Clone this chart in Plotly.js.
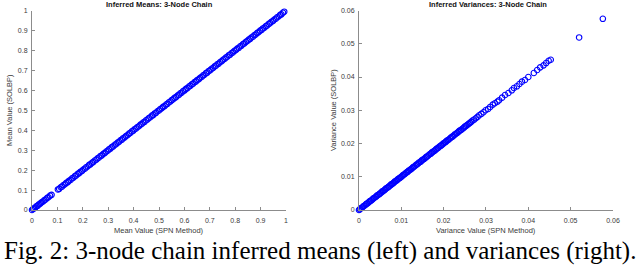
<!DOCTYPE html>
<html>
<head>
<meta charset="utf-8">
<script src="https://cdn.plot.ly/plotly-3.0.1.min.js"></script>
<style>
html,body{margin:0;padding:0;background:#fff;}
#chart{width:640px;height:266px;}
</style>
</head>
<body>
<div id="chart"></div>
<script>
// Left panel: inferred means
const meansSPN = [0, 0.004, 0.008, 0.013, 0.017, 0.022, 0.026, 0.031, 0.035, 0.04, 0.045, 0.049, 0.054, 0.06, 0.065, 0.071, 0.077, 0.102, 0.107, 0.113, 0.118, 0.124, 0.13, 0.135, 0.141, 0.146, 0.152, 0.158, 0.163, 0.169, 0.174, 0.18, 0.186, 0.191, 0.197, 0.202, 0.208, 0.213, 0.219, 0.225, 0.23, 0.236, 0.241, 0.247, 0.253, 0.258, 0.264, 0.27, 0.275, 0.281, 0.286, 0.292, 0.298, 0.303, 0.309, 0.314, 0.32, 0.326, 0.331, 0.337, 0.342, 0.348, 0.354, 0.359, 0.365, 0.37, 0.376, 0.382, 0.387, 0.393, 0.399, 0.404, 0.41, 0.415, 0.421, 0.427, 0.432, 0.438, 0.443, 0.449, 0.455, 0.46, 0.466, 0.472, 0.477, 0.483, 0.488, 0.494, 0.5, 0.505, 0.511, 0.516, 0.522, 0.528, 0.533, 0.539, 0.545, 0.55, 0.556, 0.561, 0.567, 0.573, 0.578, 0.584, 0.589, 0.595, 0.601, 0.606, 0.612, 0.618, 0.623, 0.629, 0.634, 0.64, 0.646, 0.651, 0.657, 0.662, 0.668, 0.674, 0.679, 0.685, 0.69, 0.696, 0.702, 0.707, 0.713, 0.719, 0.724, 0.73, 0.735, 0.741, 0.747, 0.752, 0.758, 0.763, 0.769, 0.775, 0.78, 0.786, 0.791, 0.797, 0.803, 0.808, 0.814, 0.82, 0.825, 0.831, 0.836, 0.842, 0.848, 0.853, 0.859, 0.864, 0.87, 0.876, 0.881, 0.887, 0.892, 0.898, 0.904, 0.909, 0.915, 0.921, 0.926, 0.932, 0.937, 0.943, 0.949, 0.954, 0.96, 0.965, 0.971, 0.977, 0.982, 0.988, 0.993];
const meansSOLBP = [0, 0.005, 0.008, 0.012, 0.018, 0.021, 0.027, 0.03, 0.036, 0.04, 0.044, 0.05, 0.053, 0.061, 0.064, 0.072, 0.076, 0.103, 0.106, 0.114, 0.117, 0.125, 0.129, 0.136, 0.14, 0.147, 0.151, 0.159, 0.162, 0.17, 0.173, 0.181, 0.185, 0.192, 0.196, 0.203, 0.207, 0.214, 0.218, 0.226, 0.229, 0.237, 0.24, 0.248, 0.252, 0.259, 0.263, 0.271, 0.274, 0.282, 0.285, 0.293, 0.297, 0.304, 0.308, 0.315, 0.319, 0.327, 0.33, 0.338, 0.341, 0.349, 0.353, 0.36, 0.364, 0.371, 0.375, 0.383, 0.386, 0.394, 0.398, 0.405, 0.409, 0.416, 0.42, 0.428, 0.431, 0.439, 0.442, 0.45, 0.454, 0.461, 0.465, 0.473, 0.476, 0.484, 0.487, 0.495, 0.499, 0.506, 0.51, 0.517, 0.521, 0.529, 0.532, 0.54, 0.544, 0.551, 0.555, 0.562, 0.566, 0.574, 0.577, 0.585, 0.588, 0.596, 0.6, 0.607, 0.611, 0.619, 0.622, 0.63, 0.633, 0.641, 0.645, 0.652, 0.656, 0.663, 0.667, 0.675, 0.678, 0.686, 0.689, 0.697, 0.701, 0.708, 0.712, 0.72, 0.723, 0.731, 0.734, 0.742, 0.746, 0.753, 0.757, 0.764, 0.768, 0.776, 0.779, 0.787, 0.79, 0.798, 0.802, 0.809, 0.813, 0.821, 0.824, 0.832, 0.835, 0.843, 0.847, 0.854, 0.858, 0.865, 0.869, 0.877, 0.88, 0.888, 0.891, 0.899, 0.903, 0.91, 0.914, 0.922, 0.925, 0.933, 0.936, 0.944, 0.948, 0.955, 0.959, 0.966, 0.97, 0.978, 0.981, 0.989, 0.994];

// Right panel: inferred variances
const varSPN = [0, 0.0002, 0.0004, 0.0007, 0.0009, 0.0011, 0.0013, 0.0016, 0.0018, 0.002, 0.0023, 0.0025, 0.0027, 0.0029, 0.0032, 0.0034, 0.0036, 0.0039, 0.0041, 0.0043, 0.0046, 0.0048, 0.005, 0.0053, 0.0055, 0.0057, 0.006, 0.0062, 0.0064, 0.0067, 0.0069, 0.0071, 0.0074, 0.0076, 0.0078, 0.0081, 0.0083, 0.0085, 0.0088, 0.009, 0.0092, 0.0095, 0.0097, 0.0099, 0.0102, 0.0104, 0.0107, 0.0109, 0.0111, 0.0114, 0.0116, 0.0118, 0.0121, 0.0123, 0.0126, 0.0128, 0.013, 0.0133, 0.0135, 0.0137, 0.014, 0.0142, 0.0145, 0.0147, 0.0149, 0.0152, 0.0154, 0.0157, 0.0159, 0.0161, 0.0164, 0.0166, 0.0169, 0.0171, 0.0173, 0.0176, 0.0178, 0.0181, 0.0183, 0.0186, 0.0188, 0.019, 0.0193, 0.0195, 0.0198, 0.02, 0.0203, 0.0205, 0.0207, 0.021, 0.0212, 0.0215, 0.0217, 0.022, 0.0222, 0.0225, 0.0227, 0.023, 0.0232, 0.0235, 0.0237, 0.024, 0.0242, 0.0245, 0.0248, 0.025, 0.0253, 0.0256, 0.0259, 0.0262, 0.0265, 0.0268, 0.0272, 0.0276, 0.028, 0.0284, 0.0289, 0.0294, 0.0299, 0.0305, 0.031, 0.0316, 0.0321, 0.0327, 0.0331, 0.0338, 0.0345, 0.0353, 0.0361, 0.0366, 0.0373, 0.0379, 0.0385, 0.0392, 0.04, 0.0413, 0.0421, 0.0428, 0.0436, 0.0442, 0.0448, 0.0453, 0.052, 0.0576];
const varSOLBP = [0, 0.0002, 0.0005, 0.0007, 0.0009, 0.0012, 0.0013, 0.0016, 0.0019, 0.002, 0.0023, 0.0026, 0.0027, 0.0029, 0.0032, 0.0035, 0.0036, 0.0039, 0.0041, 0.0044, 0.0046, 0.0048, 0.005, 0.0053, 0.0056, 0.0057, 0.006, 0.0062, 0.0065, 0.0067, 0.0069, 0.0071, 0.0074, 0.0077, 0.0078, 0.0081, 0.0083, 0.0086, 0.0088, 0.009, 0.0093, 0.0095, 0.0097, 0.0099, 0.0102, 0.0105, 0.0107, 0.0109, 0.0112, 0.0114, 0.0116, 0.0119, 0.0121, 0.0123, 0.0126, 0.0129, 0.013, 0.0133, 0.0136, 0.0137, 0.014, 0.0143, 0.0145, 0.0147, 0.015, 0.0152, 0.0154, 0.0157, 0.016, 0.0161, 0.0164, 0.0167, 0.0169, 0.0171, 0.0174, 0.0176, 0.0178, 0.0181, 0.0184, 0.0186, 0.0188, 0.0191, 0.0193, 0.0195, 0.0198, 0.0201, 0.0203, 0.0205, 0.0208, 0.021, 0.0212, 0.0215, 0.0218, 0.022, 0.0222, 0.0225, 0.0228, 0.023, 0.0232, 0.0235, 0.0238, 0.024, 0.0242, 0.0245, 0.0248, 0.0251, 0.0253, 0.0256, 0.0259, 0.0262, 0.0265, 0.0269, 0.0272, 0.0276, 0.028, 0.0285, 0.0289, 0.0294, 0.03, 0.0304, 0.031, 0.0317, 0.0321, 0.0326, 0.033, 0.0338, 0.0346, 0.0352, 0.036, 0.0367, 0.0372, 0.0379, 0.0386, 0.0391, 0.04, 0.0412, 0.0421, 0.0429, 0.0435, 0.0442, 0.0449, 0.0452, 0.0519, 0.0575];

const meanTicks = [0, 0.1, 0.2, 0.3, 0.4, 0.5, 0.6, 0.7, 0.8, 0.9, 1];
const varTicks = [0, 0.01, 0.02, 0.03, 0.04, 0.05, 0.06];

const titles = {
  left: 'Inferred Means: 3-Node Chain',
  right: 'Inferred Variances: 3-Node Chain',
  leftX: 'Mean Value (SPN Method)',
  leftY: 'Mean Value (SOLBP)',
  rightX: 'Variance Value (SPN Method)',
  rightY: 'Variance Value (SOLBP)',
  caption: 'Fig. 2: 3-node chain inferred means (left) and variances (right).'
};

const marker = {symbol: 'circle-open', size: 5.5, color: '#0000ff', line: {width: 1.1, color: '#0000ff'}};

const traces = [
  {x: meansSPN, y: meansSOLBP, type: 'scatter', mode: 'markers', marker: marker, xaxis: 'x', yaxis: 'y', cliponaxis: false, hoverinfo: 'skip'},
  {x: varSPN, y: varSOLBP, type: 'scatter', mode: 'markers', marker: marker, xaxis: 'x2', yaxis: 'y2', cliponaxis: false, hoverinfo: 'skip'}
];

const tickFont = {family: 'Liberation Sans, Arial, sans-serif', size: 7, color: '#3a3a3a'};
function axis(domain, range, tickvals, anchor, standoff) {
  return {
    domain: domain, range: range, tickvals: tickvals, anchor: anchor,
    showgrid: false, zeroline: false, showline: true, linecolor: '#8c8c8c', linewidth: 1,
    ticks: 'inside', ticklen: 3, tickcolor: '#8c8c8c', tickwidth: 1,
    tickfont: tickFont, fixedrange: true, mirror: false, ticklabelstandoff: standoff
  };
}

const yDom = [0.2105, 0.9605];
const lab = {family: 'Liberation Sans, Arial, sans-serif', size: 7.5, color: '#3a3a3a'};
const layout = {
  width: 640, height: 266,
  margin: {l: 0, r: 0, t: 0, b: 0},
  paper_bgcolor: '#fff', plot_bgcolor: '#fff',
  showlegend: false,
  xaxis: axis([0.05, 0.4469], [0, 1], meanTicks, 'y', 4),
  yaxis: axis(yDom, [0, 1], meanTicks, 'x', 2),
  xaxis2: axis([0.5609, 0.9578], [0, 0.06], varTicks, 'y2', 4),
  yaxis2: axis(yDom, [0, 0.06], varTicks, 'x2', 2),
  annotations: [
    {text: '<b>' + titles.left + '</b>', xref: 'paper', yref: 'paper', x: 159/640, y: 1 - 4/266, xanchor: 'center', yanchor: 'middle', showarrow: false, font: {family: 'Liberation Sans, Arial, sans-serif', size: 7.5, color: '#111'}},
    {text: '<b>' + titles.right + '</b>', xref: 'paper', yref: 'paper', x: 488/640, y: 1 - 4/266, xanchor: 'center', yanchor: 'middle', showarrow: false, font: {family: 'Liberation Sans, Arial, sans-serif', size: 7.5, color: '#111'}},
    {text: titles.leftX, xref: 'paper', yref: 'paper', x: 159/640, y: 1 - 230/266, xanchor: 'center', yanchor: 'middle', showarrow: false, font: lab},
    {text: titles.rightX, xref: 'paper', yref: 'paper', x: 486/640, y: 1 - 230/266, xanchor: 'center', yanchor: 'middle', showarrow: false, font: lab},
    {text: titles.leftY, xref: 'paper', yref: 'paper', x: 10/640, y: 1 - 110/266, xanchor: 'center', yanchor: 'middle', textangle: -90, showarrow: false, font: lab},
    {text: titles.rightY, xref: 'paper', yref: 'paper', x: 334/640, y: 1 - 110/266, xanchor: 'center', yanchor: 'middle', textangle: -90, showarrow: false, font: lab},
    {text: titles.caption, xref: 'paper', yref: 'paper', x: 0.5, y: 1 - 250.5/266, xanchor: 'center', yanchor: 'middle', showarrow: false, font: {family: 'Liberation Serif, Times New Roman, serif', size: 25, color: '#000'}}
  ]
};

Plotly.newPlot('chart', traces, layout, {displayModeBar: false, staticPlot: true});
</script>
</body>
</html>
